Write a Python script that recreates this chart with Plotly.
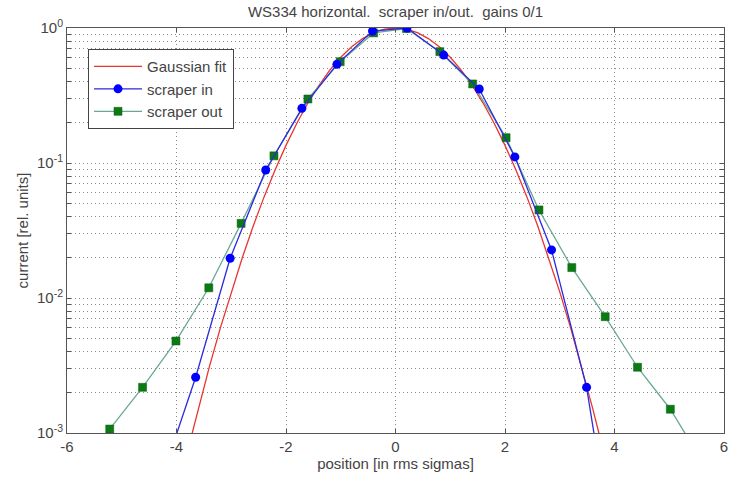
import plotly.graph_objects as go

# scraper in (blue circles)
pos_in = [-4.28, -3.65, -3.02, -2.37, -1.71, -1.07, -0.42, 0.21, 0.88, 1.53, 2.18, 2.85, 3.49, 4.14]
cur_in = [0.00045, 0.00259, 0.0197, 0.0887, 0.254, 0.538, 0.95, 1.0, 0.63, 0.353, 0.111, 0.0227, 0.00218, 0.00005]

# scraper out (green squares)
pos_out = [-5.22, -4.62, -4.01, -3.41, -2.82, -2.22, -1.60, -1.01, -0.40, 0.20, 0.81, 1.41, 2.02,
           2.62, 3.22, 3.83, 4.42, 5.02, 5.62]
cur_out = [0.00107, 0.00218, 0.0048, 0.0119, 0.0357, 0.113, 0.298, 0.563, 0.92, 0.99, 0.668, 0.385,
           0.154, 0.0449, 0.0168, 0.00727, 0.00307, 0.0015, 0.0006]

# Gaussian fit (red curve)
pos_fit = [-3.8, -3.6, -3.4, -3.2, -3.0, -2.8, -2.6, -2.4, -2.2, -2.0, -1.8, -1.6, -1.4, -1.2, -1.0,
           -0.8, -0.6, -0.4, -0.2, 0.0, 0.2, 0.4, 0.6, 0.8, 1.0, 1.2, 1.4, 1.6, 1.8, 2.0, 2.2, 2.4,
           2.6, 2.8, 3.0, 3.2, 3.4, 3.6, 3.8]
cur_fit = [0.00073, 0.00153, 0.00309, 0.00598, 0.0111, 0.0198, 0.034, 0.0561, 0.0889, 0.135, 0.198,
           0.278, 0.375, 0.487, 0.607, 0.726, 0.835, 0.923, 0.98, 1.0, 0.98, 0.923, 0.835, 0.726,
           0.607, 0.487, 0.375, 0.278, 0.198, 0.135, 0.0889, 0.0561, 0.034, 0.0198, 0.0111, 0.00598,
           0.00309, 0.00153, 0.00073]

x_ticks = [-6, -4, -2, 0, 2, 4, 6]
x_labels = ["-6", "-4", "-2", "0", "2", "4", "6"]

y_ticks, y_labels = [], []
for k in (-3, -2, -1):
    for m in range(1, 10):
        y_ticks.append(m * 10.0 ** k)
        y_labels.append(f"10<sup>{k}</sup>" if m == 1 else "")
y_ticks.append(1.0)
y_labels.append("10<sup>0</sup>")

_FONT = dict(family="Liberation Sans, Arial, sans-serif", size=15, color="#444444")
_AXIS = dict(
    showline=True, linecolor="#555555", linewidth=1, mirror="allticks",
    ticks="inside", ticklen=4, tickcolor="#555555",
    showgrid=True, gridcolor="#8c8c8c", griddash="1px,3px", gridwidth=1,
    zeroline=False, tickfont=_FONT, ticklabeloverflow="allow",
)

fig = go.Figure()

fig.add_trace(go.Scatter(
    x=pos_fit, y=cur_fit, name="Gaussian fit", mode="lines",
    line=dict(color="#e8352e", width=1.3), legendrank=1,
))
fig.add_trace(go.Scatter(
    x=pos_out, y=cur_out, name="scraper out", mode="lines+markers",
    line=dict(color="#6aa894", width=1.3),
    marker=dict(symbol="square", size=8, color="#0b7a12", line=dict(color="#0a5a10", width=0.5)),
    legendrank=3,
))
fig.add_trace(go.Scatter(
    x=pos_in, y=cur_in, name="scraper in", mode="lines+markers",
    line=dict(color="#2a2ae0", width=1.3),
    marker=dict(symbol="circle", size=9, color="#0000ff"),
    legendrank=2,
))

fig.update_layout(
    width=732, height=481,
    paper_bgcolor="white", plot_bgcolor="white",
    margin=dict(l=67, r=4, t=28, b=48),
    font=_FONT,
    title=dict(text="WS334 horizontal.  scraper in/out.  gains 0/1", x=0.5, xref="paper",
               xanchor="center", y=0.975, yanchor="middle", font=dict(size=15, color="#444444")),
    showlegend=True,
    legend=dict(x=0.032, y=0.948, xanchor="left", yanchor="top", itemwidth=48,
                bgcolor="white", bordercolor="#444444", borderwidth=1,
                font=dict(size=15, color="#444444"), tracegroupgap=0),
    xaxis=dict(**_AXIS, range=[-6, 6], tickmode="array", tickvals=x_ticks, ticktext=x_labels,
               title=dict(text="position [in rms sigmas]", font=_FONT, standoff=4)),
    yaxis=dict(**_AXIS, type="log", range=[-3, 0], tickmode="array", tickvals=y_ticks,
               ticktext=y_labels,
               title=dict(text="current [rel. units]", font=_FONT, standoff=4)),
)

fig.write_html("out.html", config={"displayModeBar": False},
               post_script="document.body.style.margin='0';")
